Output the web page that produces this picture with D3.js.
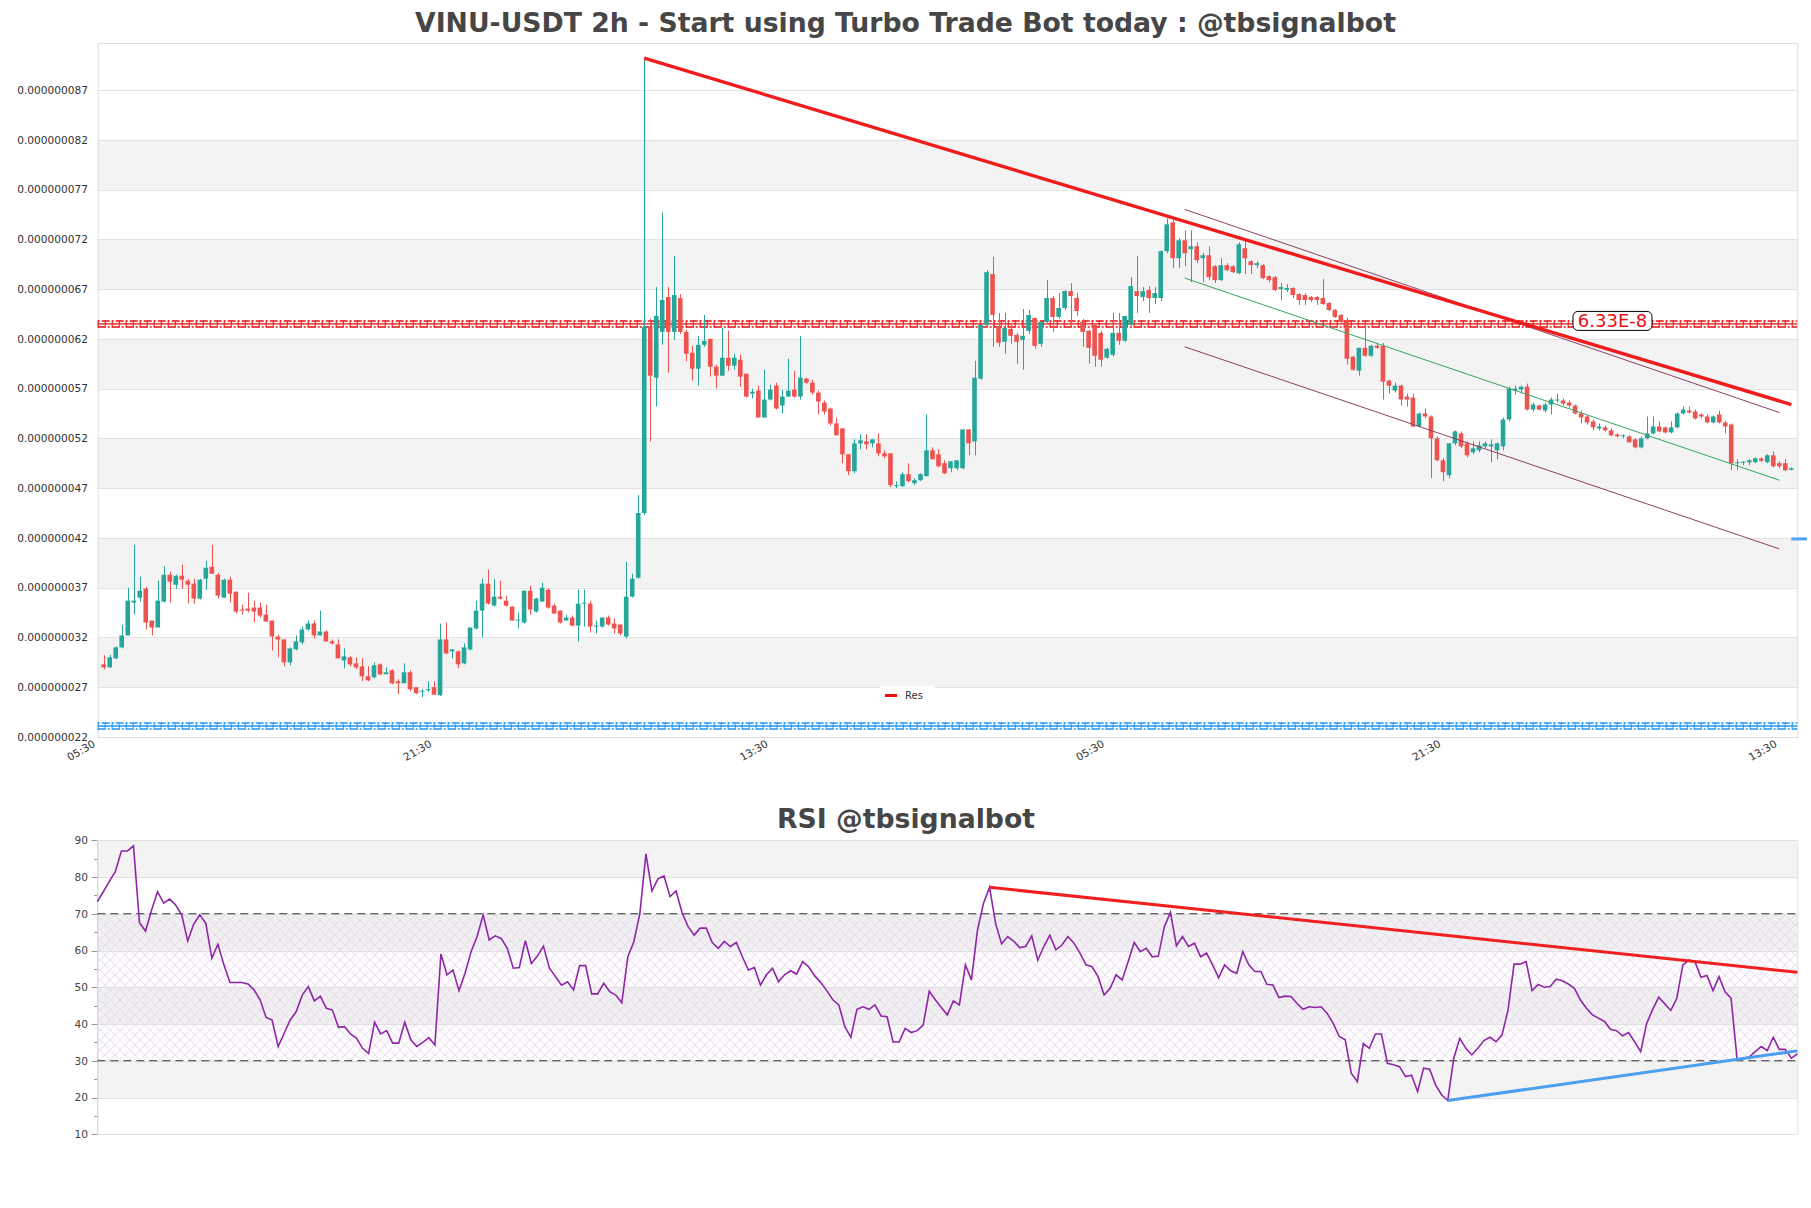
<!DOCTYPE html>
<html><head><meta charset="utf-8">
<script src="https://cdn.jsdelivr.net/npm/d3@7"></script>
<style>body{margin:0;background:#fff}svg{display:block;font-family:"DejaVu Sans",sans-serif}</style>
</head><body><svg id="c" width="1811" height="1208"></svg>
<script>
// ---------------- DATA (prices in units of 1e-9 USDT) ----------------
const PRICE_UNIT = 1e-9;
const candleOpen = [
29.3,29.0,29.9,31.0,32.2,35.5,36.0,36.9,33.7,33.0,
35.6,38.3,37.3,38.2,37.7,37.4,35.9,37.9,39.1,38.3,
36.0,37.8,36.6,34.8,34.9,35.0,35.0,34.3,33.7,32.1,
31.8,29.5,30.8,31.5,32.8,33.4,32.2,32.6,31.6,31.3,
29.7,30.0,29.4,29.1,28.1,28.0,29.3,28.3,28.7,27.6,
27.4,28.5,27.0,26.55,26.7,27.0,26.2,31.8,30.6,30.6,
29.4,30.8,32.9,34.7,37.4,35.2,36.1,35.7,35.1,33.7,
33.5,36.7,34.6,35.6,36.8,35.2,34.7,33.7,34.0,33.2,
35.4,35.4,33.1,33.1,34.0,33.4,33.3,32.1,36.1,38.0,
44.5,63.2,58.1,62.7,66.2,62.7,66.1,62.7,60.6,59.0,
61.4,62.0,59.2,58.3,60.1,59.3,59.9,58.5,56.5,56.8,
54.1,55.9,57.3,55.3,56.2,56.9,56.2,58.0,57.6,56.6,
55.6,55.0,53.5,53.0,50.4,48.7,51.5,51.7,51.5,51.5,
50.5,50.5,47.2,47.2,48.4,47.5,47.8,48.2,50.8,50.4,
49.5,49.0,49.0,49.0,52.9,51.7,58.0,63.4,68.5,63.1,
61.7,63.0,62.4,61.9,62.8,64.1,61.5,63.7,66.1,64.2,
65.1,66.8,66.1,63.7,62.8,63.4,62.6,60.1,60.4,62.6,
61.8,63.4,66.8,66.2,66.9,66.1,66.1,70.8,73.7,70.1,
71.9,71.0,71.3,70.1,70.4,69.3,67.9,69.4,69.3,68.6,
71.1,69.8,69.4,69.4,68.3,68.2,67.0,66.9,67.1,66.5,
66.4,66.2,66.2,66.1,65.6,64.9,64.4,63.9,60.2,58.8,
61.1,60.3,61.3,61.3,57.8,56.8,57.3,56.2,56.1,53.2,
54.5,54.2,52.0,49.8,48.3,51.5,52.5,51.5,50.6,50.8,
51.2,51.2,50.8,51.2,53.9,56.8,56.9,57.2,54.9,55.3,
54.8,55.4,55.8,55.8,55.6,55.3,54.5,54.2,53.7,53.0,
53.1,52.8,52.4,52.2,52.2,51.9,51.1,52.0,52.5,53.2,
53.1,52.6,53.1,54.5,54.8,54.7,54.4,54.2,53.6,54.4,
53.6,53.4,49.5,49.55,49.6,49.6,49.98,49.6,50.3,49.5,
49.5,48.85];
const candleHigh = [
30.2,30.25,31.1,33.25,37.0,41.3,38.1,37.1,33.7,37.7,
39.15,38.6,38.3,39.3,37.9,37.9,37.9,39.7,41.3,38.5,
37.9,38.1,36.6,35.3,36.5,35.7,35.5,35.3,33.7,32.3,
31.8,31.0,32.2,33.1,33.7,33.7,34.7,32.7,31.8,31.8,
30.9,30.1,30.0,29.9,29.1,29.5,29.4,29.0,28.8,27.8,
29.4,28.7,27.0,26.8,27.6,27.6,33.4,33.5,30.8,30.7,
31.4,33.0,35.7,37.9,38.8,37.9,37.7,36.2,35.1,34.5,
36.7,37.2,36.0,37.5,36.9,35.4,34.7,34.3,34.2,36.8,
36.8,35.7,33.7,34.0,34.2,33.9,33.3,39.6,38.4,46.3,
90.2,64.0,67.2,74.7,67.2,70.3,66.5,62.9,61.3,62.3,
64.4,62.0,59.4,63.1,62.8,60.5,60.4,58.5,57.0,57.3,
58.9,57.4,57.6,56.9,60.0,58.8,62.3,58.1,57.9,56.8,
55.8,55.1,54.1,53.0,50.4,51.9,52.4,52.4,51.9,52.5,
50.8,50.5,47.7,48.6,49.5,48.0,48.5,54.4,51.1,50.9,
49.8,49.7,49.8,52.9,52.9,59.8,63.5,68.9,70.25,64.6,
64.6,63.4,62.6,65.0,64.9,64.1,63.7,67.9,66.3,66.6,
66.9,67.6,66.6,64.0,62.9,63.5,62.8,61.1,64.6,64.6,
64.3,68.2,70.3,67.2,67.3,67.2,70.9,74.1,74.1,72.1,
72.9,72.9,71.7,70.6,71.3,69.4,70.1,69.6,69.4,71.7,
71.9,69.9,69.8,69.5,68.4,68.3,67.6,67.5,67.2,66.6,
66.6,66.3,66.3,68.0,65.7,65.0,64.5,64.1,60.3,61.1,
63.5,61.4,61.6,61.6,57.9,57.6,57.4,56.5,56.5,54.6,
55.0,54.3,52.2,50.0,51.5,52.8,52.7,51.7,51.7,51.7,
51.7,51.9,51.6,54.1,57.2,57.3,57.3,57.5,55.6,55.4,
55.6,56.1,56.5,56.0,55.8,55.4,54.8,54.3,53.9,53.5,
53.3,53.0,52.5,52.4,52.3,52.0,52.2,54.2,54.2,53.7,
53.2,53.7,54.6,55.2,55.2,54.9,54.5,54.4,54.3,54.8,
53.8,53.5,49.9,49.7,49.9,50.1,50.1,50.4,50.7,49.7,
49.9,49.1];
const candleLow = [
28.8,28.97,29.8,30.9,32.2,34.3,35.6,32.8,32.2,33.0,
35.5,35.5,36.9,36.9,35.4,35.4,35.8,36.8,38.4,35.9,
36.0,35.5,34.4,34.3,34.5,33.5,34.0,33.6,30.7,30.0,
29.1,29.2,30.7,31.3,32.7,31.9,32.2,31.6,31.3,29.9,
28.9,29.1,28.8,27.6,27.6,27.9,28.2,28.3,27.3,26.3,
27.4,26.6,26.3,26.0,26.5,26.25,26.1,30.3,29.9,28.9,
29.3,30.7,32.8,32.0,35.3,35.1,35.8,35.1,33.7,32.9,
33.4,34.3,34.5,35.6,34.9,34.4,33.4,33.7,33.1,31.6,
33.1,32.5,32.4,33.0,33.2,32.4,32.2,31.9,36.0,37.9,
44.3,51.7,55.2,61.4,58.6,61.9,62.5,59.75,57.8,57.3,
61.2,58.2,57.0,58.3,58.8,58.9,57.2,56.1,56.0,54.1,
54.1,55.8,54.9,54.5,56.2,56.1,55.9,57.5,56.4,54.4,
54.4,53.3,52.3,49.5,48.3,48.5,50.9,50.9,51.1,50.2,
50.0,47.1,47.0,47.1,47.6,47.3,47.7,48.2,49.9,49.1,
48.4,48.6,48.8,48.9,50.3,50.3,57.9,63.2,61.2,61.2,
60.5,61.5,59.5,58.9,62.5,61.0,61.2,63.6,62.7,64.0,
64.9,63.2,64.3,61.2,59.5,59.2,59.2,60.0,60.2,61.4,
61.7,63.3,64.6,65.8,64.6,65.5,65.8,70.6,69.1,69.1,
69.3,67.7,69.6,67.7,67.9,67.6,67.8,68.8,68.6,68.5,
68.5,68.5,69.1,68.0,67.7,66.8,65.9,66.7,66.1,65.4,
65.4,65.7,65.4,65.4,64.8,64.1,63.5,59.4,58.8,58.3,
60.2,60.2,61.0,55.9,56.5,56.6,55.3,55.2,53.1,53.1,
54.0,48.0,49.7,47.7,48.0,51.3,51.0,50.1,50.4,50.6,
51.0,49.6,49.9,50.8,53.7,56.4,56.5,54.8,54.7,54.8,
54.6,54.4,55.6,55.3,55.1,54.4,53.5,53.4,52.8,52.8,
52.7,52.2,52.1,52.0,51.6,51.0,51.0,51.9,52.4,52.6,
52.5,52.5,53.0,54.4,54.5,53.9,54.0,53.5,53.5,53.5,
52.5,48.8,48.8,49.3,49.3,49.5,49.6,49.5,49.1,49.0,
48.7,48.8];
const candleClose = [
29.0,30.0,31.0,32.2,35.7,35.7,36.7,33.5,33.0,35.7,
38.3,37.6,38.2,37.8,37.3,35.9,37.8,39.0,38.4,36.2,
37.8,36.4,34.6,34.7,34.7,34.6,34.2,33.6,32.1,31.8,
29.5,30.9,31.6,32.8,33.4,32.2,32.6,31.6,31.4,29.9,
30.1,29.3,29.0,28.1,27.7,29.2,28.3,28.5,27.4,27.4,
28.5,26.8,26.4,26.65,26.8,26.25,31.8,30.4,30.8,29.3,
31.0,33.0,34.7,37.4,35.4,36.1,35.9,35.2,33.7,33.8,
36.7,34.8,35.9,37.0,35.0,34.4,33.5,34.0,33.2,35.4,
35.5,33.1,33.2,34.0,33.3,32.9,32.4,36.1,37.9,44.5,
63.2,58.3,64.3,65.9,62.7,66.4,62.7,60.5,59.0,61.4,
61.8,59.2,58.3,60.1,59.3,60.1,58.2,56.2,56.7,54.1,
55.9,56.9,55.0,56.2,56.8,56.2,58.1,57.6,56.6,55.7,
54.7,53.5,52.3,50.4,48.7,51.5,51.8,51.4,51.9,50.5,
50.2,47.3,47.3,48.4,47.7,47.8,48.4,50.8,49.9,49.2,
48.5,49.7,49.8,52.9,51.5,58.1,63.4,68.7,64.4,61.6,
63.1,62.3,61.7,62.3,64.4,61.3,63.7,66.1,64.2,65.1,
66.8,66.3,64.8,62.7,61.1,60.3,59.9,61.0,62.6,61.8,
64.3,67.3,66.3,66.8,66.1,66.6,70.8,73.5,70.1,71.9,
70.6,71.3,69.9,70.4,68.2,67.9,69.4,68.9,68.7,71.5,
70.1,69.4,69.6,68.1,67.9,66.9,67.2,67.1,66.4,65.9,
65.9,65.9,65.9,65.5,64.9,64.2,63.7,60.0,58.9,61.1,
60.3,61.3,61.1,57.7,57.3,57.3,55.9,55.9,53.2,54.5,
54.2,52.0,49.8,48.6,51.5,52.7,51.2,50.3,51.0,51.3,
51.5,51.4,51.5,53.9,57.0,57.0,57.2,54.9,55.4,54.9,
55.4,55.9,55.9,55.5,55.3,54.5,54.1,53.6,53.1,53.2,
52.8,52.3,52.2,52.3,51.6,51.1,52.0,52.5,53.2,52.7,
52.6,53.1,54.5,54.9,54.6,54.0,54.2,53.6,54.2,53.6,
53.2,49.5,49.6,49.65,49.8,50.0,49.75,50.3,49.2,49.2,
48.8,49.0];

const rsiValues = [
73.3,76.0,78.8,81.5,87.1,87.1,88.5,67.6,65.3,71.0,
76.0,72.9,74.0,72.4,69.7,62.6,67.2,69.7,67.4,57.9,
61.7,56.1,51.3,51.3,51.3,50.9,49.3,46.6,41.8,41.1,
33.9,37.5,41.1,43.4,47.9,50.2,46.3,47.6,44.3,43.8,
39.1,39.3,37.3,36.1,33.4,32.0,40.5,37.3,38.2,34.8,
34.8,40.5,35.7,33.9,35.0,36.3,34.3,59.1,53.4,54.7,
49.1,53.8,59.7,63.8,69.7,62.9,64.0,63.3,60.6,55.2,
55.4,62.7,56.5,58.5,61.2,55.2,52.9,50.6,51.5,49.3,
55.9,55.9,48.2,48.2,51.1,48.8,47.9,45.8,58.3,62.4,
70.1,86.3,76.2,79.5,80.3,74.7,76.2,70.3,66.5,64.2,
66.1,66.1,62.2,60.6,62.5,61.1,62.2,58.3,54.7,55.4,
50.6,53.4,55.2,51.5,53.4,54.5,53.6,57.0,55.6,53.1,
51.3,49.1,46.6,45.2,39.3,36.4,44.0,44.7,44.0,45.2,
42.2,42.0,35.1,35.1,38.8,37.7,38.2,39.8,48.9,46.6,
44.5,42.5,46.3,45.2,56.1,52.0,65.6,72.9,77.2,67.4,
61.8,63.8,62.6,60.8,61.1,64.0,57.4,61.1,64.2,60.2,
61.5,63.8,62.0,59.3,56.1,55.6,52.9,47.9,49.7,53.4,
52.0,57.0,62.2,59.7,60.6,58.3,58.5,66.5,70.4,61.3,
63.8,61.1,62.0,58.3,59.3,56.1,52.6,56.1,54.5,53.8,
59.7,56.1,54.3,54.3,50.8,50.6,47.2,47.6,47.5,45.6,
44.0,44.7,44.5,44.7,42.9,40.2,36.6,35.7,26.6,24.3,
34.7,33.4,37.3,37.3,29.3,28.9,28.4,25.7,26.1,21.6,
28.0,27.7,23.4,20.7,19.2,30.7,36.1,33.4,31.6,33.4,
35.5,36.4,35.2,37.0,43.8,56.3,56.3,57.0,49.1,50.8,
50.0,50.2,52.2,51.8,50.9,49.7,46.6,44.3,42.5,41.6,
40.7,38.6,38.2,36.8,37.7,35.2,32.5,40.2,44.0,47.3,
45.5,43.7,47.0,56.1,57.4,57.0,52.7,53.2,49.1,52.9,
48.8,47.0,30.4,30.7,31.0,32.5,33.9,32.8,36.4,33.1,
33.1,30.7,31.9];

// x-axis tick labels and the candle slot each one sits on (-1 = slot before first candle)
const xTickLabels = ["05:30","21:30","13:30","05:30","21:30","13:30"];
const xTickSlot   = [-1, 55, 111, 167, 223, 279];
// price axis ticks
const priceTicks = [22,27,32,37,42,47,52,57,62,67,72,77,82,87];
const rsiTicks = [10,20,30,40,50,60,70,80,90];

// drawn studies (slot index, price)
const resTrendSlot = [90, 281],  resTrendVal = [90.2, 55.4];
const chanSlot = [180, 279];
const chanUpperVal = [75.0, 54.6];
const chanMidVal   = [68.1, 47.8];
const chanLowerVal = [61.2, 40.9];
const resistanceLevel = 63.3;   // 6.33E-8
const supportLevel = 22.9;
const outsideBlueSlot = [281, 283.6], outsideBlueVal = [41.9, 41.9];
const rsiResSlot = [148, 282], rsiResVal = [77.2, 54.1];
const rsiSupSlot = [224, 282], rsiSupVal = [19.2, 32.7];

// ---------------- DRAWING ----------------
const svg = d3.select("#c");
const N = candleOpen.length;
const P = {l:97.7, r:1797.3, t:43, b:737};
const x = d3.scaleLinear().domain([-1, N]).range([P.l, P.r]);
const y = d3.scaleLinear().domain([22, 91.72]).range([P.b, P.t]);
const GREEN = "#26a69a", RED = "#ef5350";

const defs = svg.append("defs");
const pat = defs.append("pattern").attr("id","hatch").attr("patternUnits","userSpaceOnUse")
  .attr("width",10).attr("height",10);
pat.append("path").attr("d","M0,0L10,10M10,0L0,10M-1,9L1,11M9,-1L11,1")
  .attr("stroke","#ddd3e3").attr("stroke-width",0.6).attr("fill","none");

// Title
svg.append("text").attr("x",905.5).attr("y",31.7).attr("text-anchor","middle")
  .attr("font-weight","bold").attr("font-size",26.7).attr("fill","#464646")
  .text("VINU-USDT 2h - Start using Turbo Trade Bot today : @tbsignalbot");

const g = svg.append("g");
// bands
for (let i=0;i<priceTicks.length-1;i++){
  if (i%2===1) g.append("rect").attr("x",P.l).attr("width",P.r-P.l)
    .attr("y",y(priceTicks[i+1])).attr("height",y(priceTicks[i])-y(priceTicks[i+1])).attr("fill","#f3f3f3");
}
// grid
g.selectAll("line.grid").data(priceTicks).join("line")
  .attr("x1",P.l).attr("x2",P.r).attr("y1",d=>Math.round(y(d))+0.5).attr("y2",d=>Math.round(y(d))+0.5)
  .attr("stroke","#e2e2e2").attr("stroke-width",1);
g.append("rect").attr("x",P.l+0.5).attr("y",P.t+0.5).attr("width",P.r-P.l).attr("height",P.b-P.t)
  .attr("fill","none").attr("stroke","#dcdcdc");

// y labels
g.selectAll("text.yl").data(priceTicks).join("text")
  .attr("x",88).attr("y",d=>y(d)+3.8).attr("text-anchor","end")
  .attr("font-size",10.6).attr("fill","#333")
  .text(d=>(d*PRICE_UNIT).toFixed(9));

// x labels
xTickLabels.forEach((lab,i)=>{
  const xx = x(xTickSlot[i]);
  g.append("text").attr("transform",`translate(${xx-1.5},746) rotate(-30)`)
    .attr("text-anchor","end").attr("font-size",10.6).attr("fill","#333").text(lab);
});

// horizontal S/R levels
function levelLine(val,color){
  const yy = y(val)-2;
  const gg = g.append("g").attr("stroke",color).attr("fill","none");
  gg.append("line").attr("x1",P.l).attr("x2",P.r).attr("y1",yy).attr("y2",yy).attr("stroke-width",1.4);
  gg.append("line").attr("x1",P.l).attr("x2",P.r).attr("y1",yy-3).attr("y2",yy-3)
    .attr("stroke-width",1.5).attr("stroke-dasharray","2,2,8,2");
  gg.append("line").attr("x1",P.l).attr("x2",P.r).attr("y1",yy+3).attr("y2",yy+3)
    .attr("stroke-width",1.5).attr("stroke-dasharray","8,2,2,2");
  gg.append("line").attr("x1",P.l).attr("x2",P.r).attr("y1",yy).attr("y2",yy)
    .attr("stroke-width",7).attr("stroke-dasharray","1,6");
}
levelLine(resistanceLevel,"#e81010");
levelLine(supportLevel,"#2196f3");

// candles
const cg = g.append("g");
for (let i=0;i<N;i++){
  const o=candleOpen[i],h=candleHigh[i],l=candleLow[i],c=candleClose[i];
  const col = c>=o?GREEN:RED;
  const cx = Math.round(x(i))+0.5;
  cg.append("line").attr("x1",cx).attr("x2",cx).attr("y1",y(h)).attr("y2",y(l)).attr("stroke",col).attr("stroke-width",1);
  const top=y(Math.max(o,c)), bot=y(Math.min(o,c));
  cg.append("rect").attr("x",x(i)-2.3).attr("width",4.6).attr("y",top).attr("height",Math.max(1,bot-top)).attr("fill",col);
}

// channel + trend lines
const ln = d3.line().x(d=>x(d[0])).y(d=>y(d[1]));
const seg = (s,v)=>s.map((d,i)=>[d,v[i]]);
g.append("path").attr("d",ln(seg(chanSlot,chanUpperVal))).attr("stroke","#8e3f63").attr("stroke-width",1).attr("fill","none");
g.append("path").attr("d",ln(seg(chanSlot,chanMidVal))).attr("stroke","#3aa35e").attr("stroke-width",1).attr("fill","none");
g.append("path").attr("d",ln(seg(chanSlot,chanLowerVal))).attr("stroke","#8e3f63").attr("stroke-width",1).attr("fill","none");
g.append("path").attr("d",ln(seg(resTrendSlot,resTrendVal))).attr("stroke","#f01c1c").attr("stroke-width",3.4).attr("fill","none");
g.append("path").attr("d",ln(seg(outsideBlueSlot,outsideBlueVal))).attr("stroke","#4fa3f0").attr("stroke-width",3).attr("fill","none");

// level label
const ly = y(resistanceLevel)-5;
g.append("rect").attr("x",1573).attr("y",ly-9.5).attr("width",79).attr("height",19).attr("rx",5)
  .attr("fill","#fff").attr("stroke","#000").attr("stroke-width",1);
g.append("text").attr("x",1612.5).attr("y",ly+6.5).attr("text-anchor","middle").attr("font-size",18)
  .attr("fill","#e81010").text((resistanceLevel*PRICE_UNIT).toExponential(2).toUpperCase());

// legend
g.append("rect").attr("x",880).attr("y",686).attr("width",55).attr("height",15).attr("fill","#fff");
g.append("rect").attr("x",885).attr("y",694).attr("width",12).attr("height",3).attr("fill","#e81010");
g.append("text").attr("x",905).attr("y",699).attr("font-size",10).attr("fill","#333").text("Res");

// ---------------- RSI ----------------
const R = {l:97.3, r:1797.4, t:840.3, b:1134.3};
const rx = d3.scaleLinear().domain([0, rsiValues.length-1]).range([R.l, R.r]);
const ry = d3.scaleLinear().domain([10,90]).range([R.b, R.t]);
svg.append("text").attr("x",906).attr("y",828.3).attr("text-anchor","middle")
  .attr("font-weight","bold").attr("font-size",26.7).attr("fill","#464646").text("RSI @tbsignalbot");
const rg = svg.append("g");
for (let i=0;i<rsiTicks.length-1;i++){
  if (i%2===1) rg.append("rect").attr("x",R.l).attr("width",R.r-R.l).attr("y",ry(rsiTicks[i+1]))
    .attr("height",ry(rsiTicks[i])-ry(rsiTicks[i+1])).attr("fill","#f3f3f3");
}
rg.append("rect").attr("x",R.l).attr("width",R.r-R.l).attr("y",ry(70)).attr("height",ry(30)-ry(70))
  .attr("fill","url(#hatch)");
rg.append("rect").attr("x",R.l).attr("width",R.r-R.l).attr("y",ry(70)).attr("height",ry(30)-ry(70))
  .attr("fill","rgba(200,160,220,0.04)");
rg.selectAll("line.rg").data(rsiTicks).join("line")
  .attr("x1",R.l).attr("x2",R.r).attr("y1",d=>Math.round(ry(d))+0.5).attr("y2",d=>Math.round(ry(d))+0.5)
  .attr("stroke","#e0e0e0");
rg.append("line").attr("x1",R.r+0.5).attr("x2",R.r+0.5).attr("y1",R.t).attr("y2",R.b).attr("stroke","#e0e0e0");
rg.append("line").attr("x1",R.l+0.5).attr("x2",R.l+0.5).attr("y1",R.t).attr("y2",R.b).attr("stroke","#ccc");
// axis ticks and labels
d3.range(10,91,5).forEach(v=>{
  const yy = Math.round(ry(v))+0.5;
  rg.append("line").attr("x1",v%10===0?91.5:94).attr("x2",R.l).attr("y1",yy).attr("y2",yy).attr("stroke","#999");
});
rg.selectAll("text.rl").data(rsiTicks).join("text").attr("x",88).attr("y",d=>ry(d)+3.8)
  .attr("text-anchor","end").attr("font-size",10.6).attr("fill","#444").text(d=>d);
[70,30].forEach(v=>rg.append("line").attr("x1",R.l).attr("x2",R.r).attr("y1",ry(v)).attr("y2",ry(v))
  .attr("stroke","#333").attr("stroke-width",1.1).attr("stroke-dasharray","8,5"));
rg.append("path").datum(rsiValues).attr("d",d3.line().x((d,i)=>rx(i)).y(d=>ry(d)))
  .attr("fill","none").attr("stroke","#8e27a6").attr("stroke-width",1.6);
const rln = d3.line().x(d=>rx(d[0])).y(d=>ry(d[1]));
rg.append("path").attr("d",rln(seg(rsiResSlot,rsiResVal))).attr("stroke","#f02020").attr("stroke-width",3).attr("fill","none");
rg.append("path").attr("d",rln(seg(rsiSupSlot,rsiSupVal))).attr("stroke","#4a9ff0").attr("stroke-width",3).attr("fill","none");
</script></body></html>
